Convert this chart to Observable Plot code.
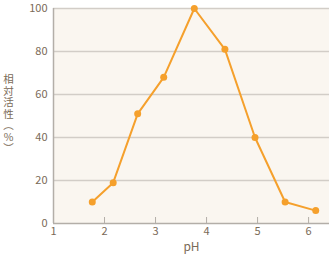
<!DOCTYPE html>
<html>
<head>
<meta charset="utf-8">
<script src="https://cdn.jsdelivr.net/npm/d3@7"></script>
<script src="https://cdn.jsdelivr.net/npm/@observablehq/plot@0.6"></script>
<style>
  html, body { margin: 0; padding: 0; background: #ffffff; }
  #wrap { position: relative; width: 329px; height: 259px; }
  #ytitle {
    position: absolute; left: 2px; top: 113px; transform: translateY(-50%);
    width: 13px; display: flex; flex-direction: column; align-items: center;
    font-family: 'Noto Sans CJK JP', sans-serif; font-size: 10.5px; line-height: 11.5px;
    color: #7a6a57;
  }
  #ytitle span { display: block; }
</style>
</head>
<body>
<div id="wrap"><div id="chart"></div><div id="ytitle"></div></div>
<script>
const pH = [1.76, 2.17, 2.65, 3.16, 3.76, 4.36, 4.95, 5.54, 6.14];
const activity = [10, 19, 51, 68, 100, 81, 40, 10, 6];
const xTicks = [1, 2, 3, 4, 5, 6];
const yTicks = [0, 20, 40, 60, 80, 100];
const xTitle = "pH";
const yTitleChars = ["相", "対", "活", "性", "︵", "%", "︶"];

const data = pH.map((x, i) => ({x, y: activity[i]}));
const textColor = "#7a6a57";

const chart = Plot.plot({
  width: 329,
  height: 259,
  marginLeft: 53,
  marginRight: 0,
  marginTop: 8,
  marginBottom: 36,
  style: {background: "transparent", fontFamily: "'Noto Sans CJK JP', 'Noto Sans', sans-serif", fontSize: "11px", color: textColor},
  x: {domain: [1, 6.41], ticks: xTicks, tickFormat: d3.format("d"), label: null},
  y: {domain: [0, 100], ticks: yTicks, label: null},
  marks: [
    Plot.frame({fill: "#faf6f0", stroke: null}),
    Plot.ruleY(yTicks.filter(d => d > 0), {stroke: "#d2cdc7", strokeWidth: 1.5}),
    Plot.ruleY([0], {stroke: "#b3aea8", strokeWidth: 1.5}),
    Plot.ruleX([1], {stroke: "#b3aea8", strokeWidth: 1.5}),
    Plot.axisX({ticks: xTicks, tickFormat: d3.format("d"), tickSize: -6, tickPadding: 10, stroke: "#b3aea8", fill: textColor, label: null}),
    Plot.axisY({ticks: yTicks, tickSize: 0, tickPadding: 6, fill: textColor, label: null}),
    Plot.line(data, {x: "x", y: "y", stroke: "#f5a02c", strokeWidth: 2}),
    Plot.dot(data, {x: "x", y: "y", fill: "#f5a02c", r: 3.5}),
    Plot.text([xTitle], {frameAnchor: "bottom", dy: 27, fill: textColor, fontSize: 12})
  ]
});
document.getElementById("chart").appendChild(chart);
const yt = document.getElementById("ytitle");
for (const c of yTitleChars) {
  const s = document.createElement("span");
  s.textContent = c;
  yt.appendChild(s);
}
</script>
</body>
</html>
